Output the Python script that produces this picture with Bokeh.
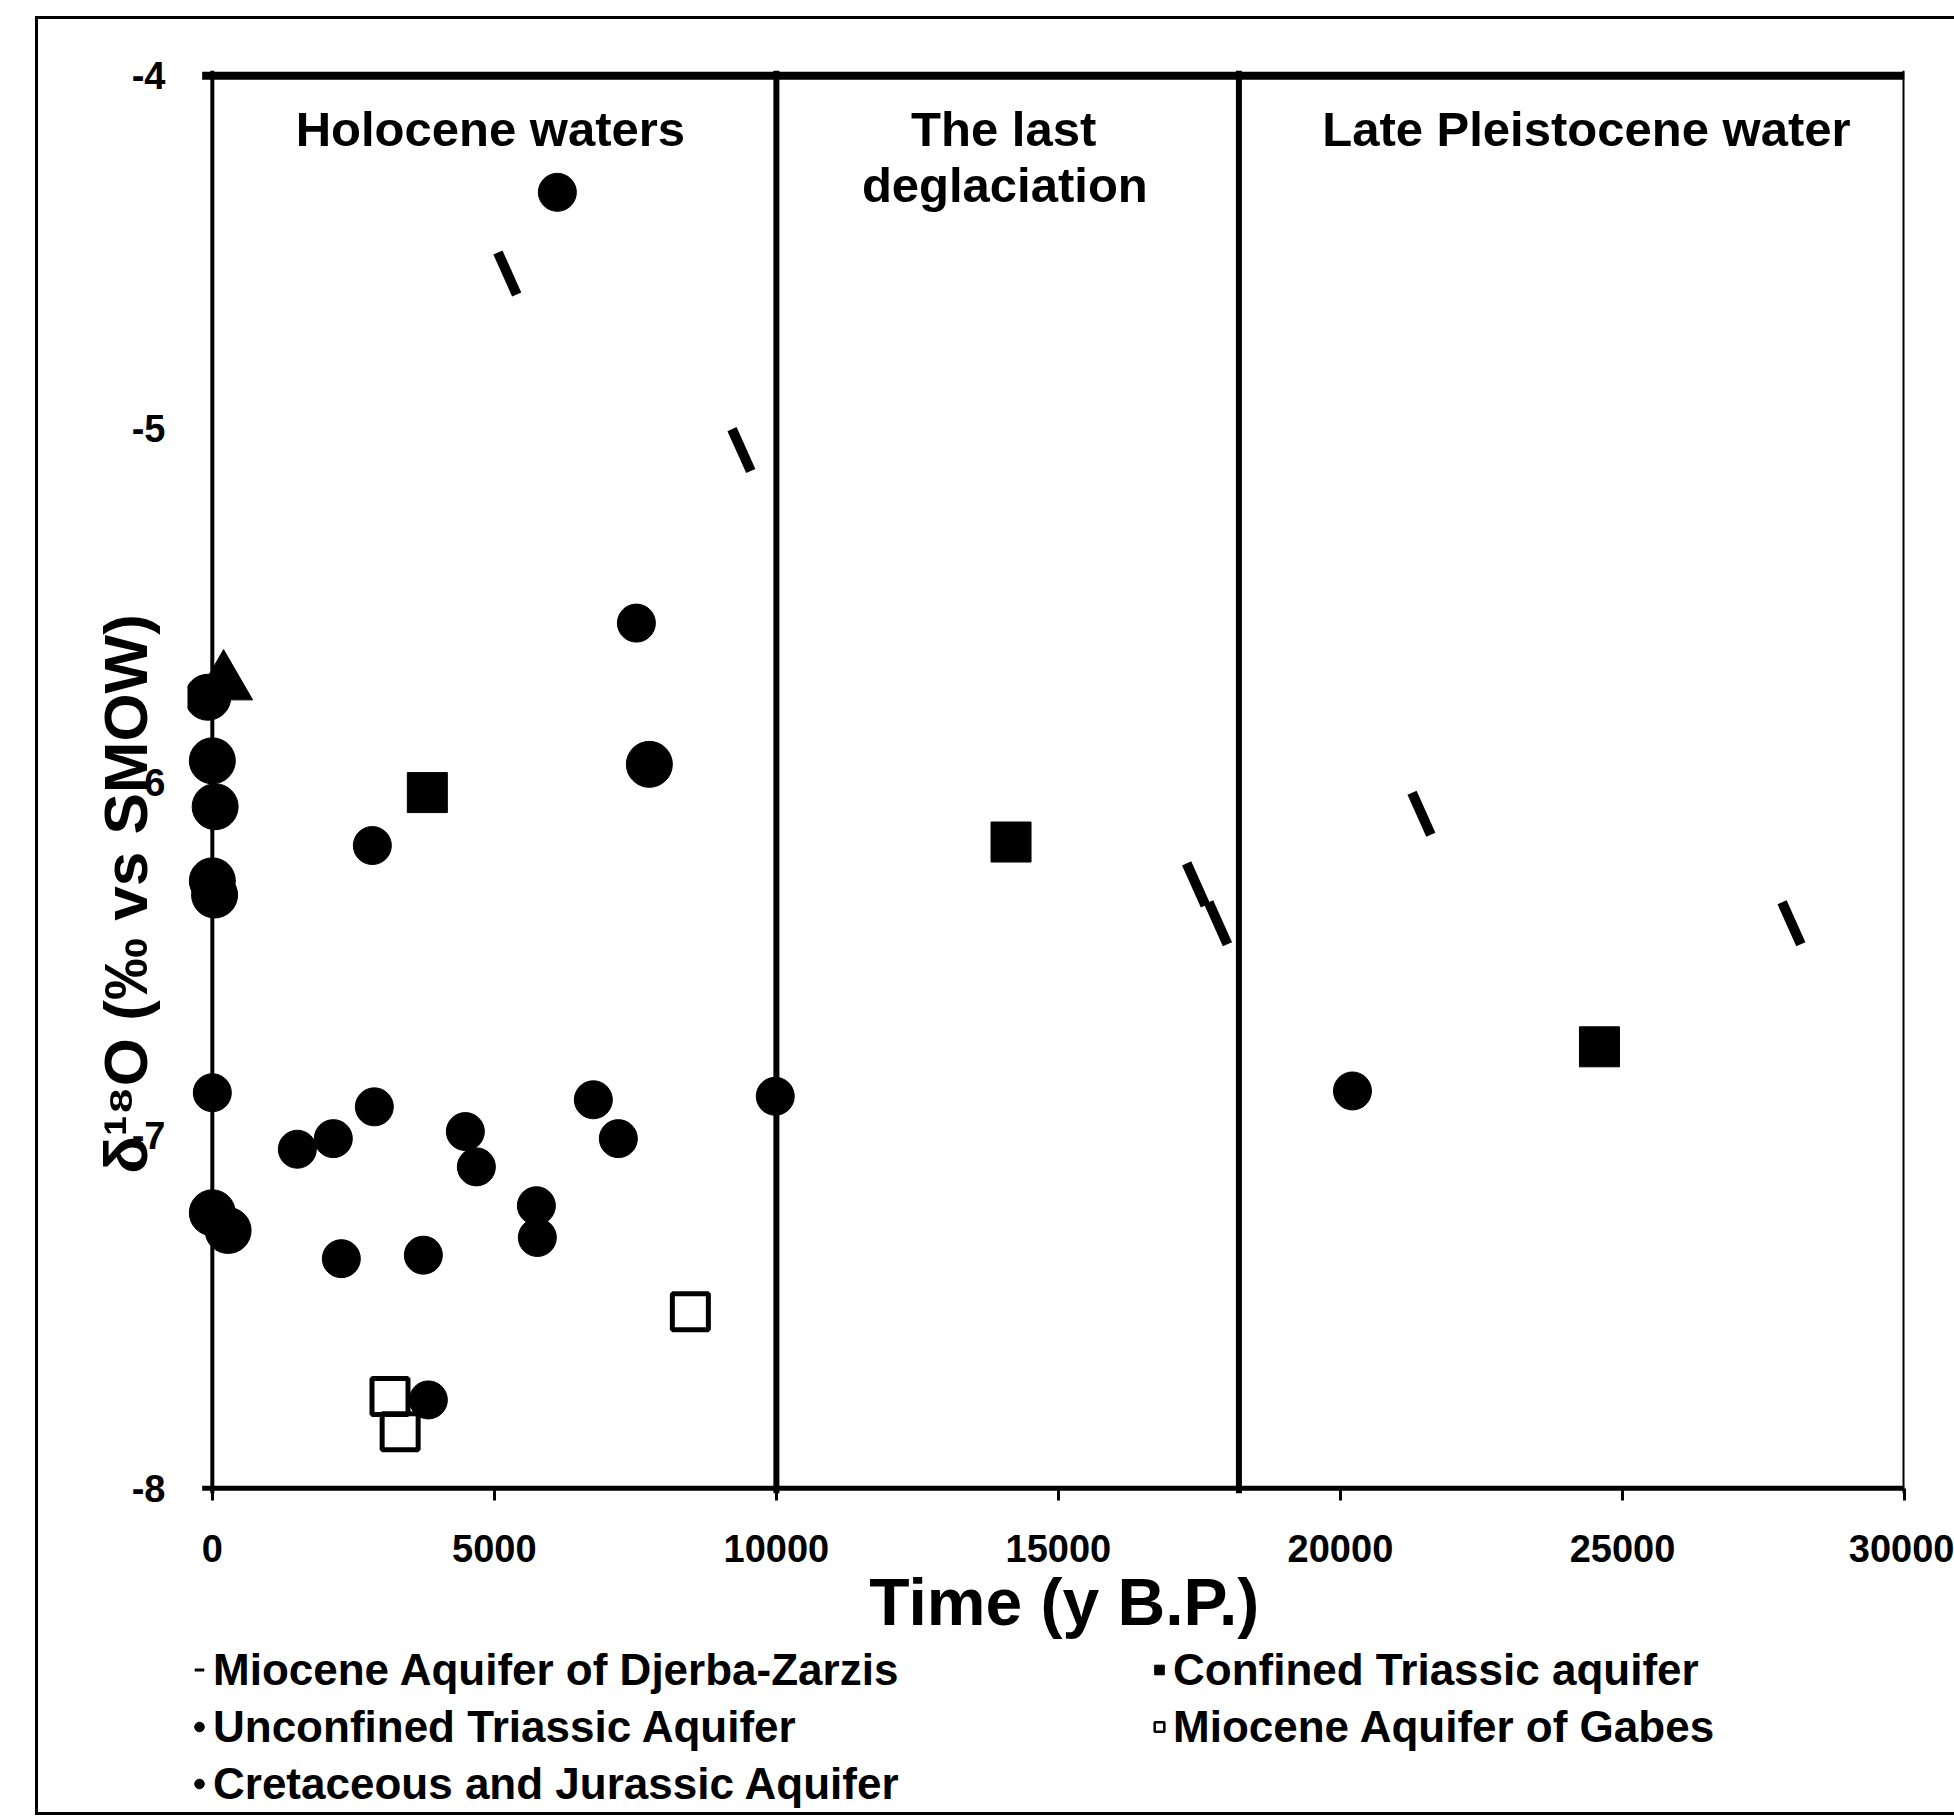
from bokeh.plotting import figure
from bokeh.layouts import column
from bokeh.models import Range1d, FixedTicker, Span, Label, Legend, LegendItem
from bokeh.embed import file_html
from bokeh.resources import INLINE

# ---------------- data ----------------
djerba_x = [5230, 9380, 17440, 17830, 21436, 27996]
djerba_y = [-4.56, -5.06, -6.29, -6.40, -6.09, -6.40]

confined_x = [3812, 14160, 24592]
confined_y = [-6.03, -6.17, -6.75]

unconfined_x = [2837, 0, 2872, 1507, 2145, 4486, 4681, 6755, 7198, 5745, 5762,
                2287, 3741, 3830, 7518, 6117, 9980, 20213]
unconfined_y = [-6.18, -6.88, -6.92, -7.04, -7.01, -6.99, -7.09, -6.90, -7.01, -7.20, -7.29,
                -7.35, -7.34, -7.75, -5.55, -4.33, -6.89, -6.875]

gabes_x = [3150, 3330, 8475]
gabes_y = [-7.74, -7.84, -7.50]

cretaceous_x = [-80, 0, 50, 0, 40, 0, 280, 7748]
cretaceous_y = [-5.76, -5.94, -6.07, -6.28, -6.32, -7.22, -7.27, -5.95]

other_x = [200]
other_y = [-5.72]

series_labels = ["Miocene Aquifer of Djerba-Zarzis", "Unconfined Triassic Aquifer",
                 "Cretaceous and Jurassic Aquifer", "Confined Triassic aquifer",
                 "Miocene Aquifer of Gabes"]

x_ticks = [0, 5000, 10000, 15000, 20000, 25000, 30000]
y_ticks = [-8, -7, -6, -5, -4]
x_limits = [0, 30000]
y_limits = [-8, -4]
period_bounds = [10000, 18200]
period_names = ["Holocene waters", "The last", "deglaciation", "Late Pleistocene water"]
period_x = [4929, 14030, 14050, 24360]
period_y = [-4.15, -4.15, -4.31, -4.15]

x_title = "Time (y B.P.)"
y_title = "δ¹⁸O (‰ vs SMOW)"

FONT = "Liberation Sans"

p = figure(frame_width=1717, frame_height=1423,
           x_range=Range1d(-440, 30000), y_range=Range1d(-8.015, -3.985),
           output_backend="svg", toolbar_location=None,
           min_border_left=149, min_border_right=50, min_border_top=51, min_border_bottom=140)

p.xgrid.grid_line_color = None
p.ygrid.grid_line_color = None
p.outline_line_color = None
p.background_fill_color = "white"
p.border_fill_color = "white"

# x axis
xa = p.xaxis[0]
xa.ticker = FixedTicker(ticks=x_ticks)
xa.axis_line_color = None
xa.major_tick_in = 5
xa.major_tick_out = 7
xa.major_tick_line_width = 3
xa.minor_tick_line_color = None
xa.major_label_standoff = 34
xa.major_label_text_font = FONT
xa.major_label_text_font_style = "bold"
xa.major_label_text_font_size = "38px"
xa.major_label_text_color = "black"
# two leading no-break spaces shift the title slightly right, as in the original
xa.axis_label = "\u00a0\u00a0" + x_title
xa.axis_label_text_font = FONT
xa.axis_label_text_font_style = "bold"
xa.axis_label_text_font_size = "66px"
xa.axis_label_text_color = "black"
xa.axis_label_standoff = 0

# y axis
ya = p.yaxis[0]
ya.ticker = FixedTicker(ticks=y_ticks)
ya.major_label_overrides = {t: str(t) for t in y_ticks}
ya.axis_line_color = None
ya.major_tick_line_color = None
ya.minor_tick_line_color = None
ya.major_tick_out = 0
ya.major_tick_in = 0
ya.major_label_standoff = 22
ya.major_label_text_font = FONT
ya.major_label_text_font_style = "bold"
ya.major_label_text_font_size = "38px"
ya.major_label_text_color = "black"
# trailing no-break spaces push the visible title down, as in the original
ya.axis_label = y_title + "\u00a0" * 13
ya.axis_label_text_font = FONT
ya.axis_label_text_font_style = "bold"
ya.axis_label_text_font_size = "62px"
ya.axis_label_text_color = "black"
ya.axis_label_standoff = -31

# frame lines
p.segment(x0=[-180], y0=[y_limits[1]], x1=[x_limits[1]], y1=[y_limits[1]], line_width=8, line_color="black")
p.segment(x0=[-180], y0=[y_limits[0]], x1=[x_limits[1]], y1=[y_limits[0]], line_width=5, line_color="black")
p.add_layout(Span(location=x_limits[0], dimension="height", line_color="black", line_width=4))
p.add_layout(Span(location=x_limits[1], dimension="height", line_color="black", line_width=4))
for b in period_bounds:
    p.add_layout(Span(location=b, dimension="height", line_color="black", line_width=6))

# period labels
for name, lx, ly in zip(period_names, period_x, period_y):
    p.add_layout(Label(x=lx, y=ly, text=name, text_align="center", text_baseline="middle",
                       text_font=FONT, text_font_style="bold", text_font_size="49px",
                       text_color="black"))

# marker styles
styles = [
    dict(marker="dash", size=46, angle=-1.15, line_width=10, line_color="black"),
    dict(marker="circle", size=38, fill_color="black", line_color="black"),
    dict(marker="circle", size=46, fill_color="black", line_color="black"),
    dict(marker="square", size=40, fill_color="black", line_color="black"),
    dict(marker="square", size=36, fill_color=None, line_color="black", line_width=5),
]
legend_styles = [
    dict(marker="dash", angle=-1.15, line_width=3, line_color="black"),
    dict(marker="circle", fill_color="black", line_color="black"),
    dict(marker="circle", fill_color="black", line_color="black"),
    dict(marker="square", fill_color="black", line_color="black"),
    dict(marker="square", fill_color=None, line_color="black", line_width=2.5),
]
series_x = [djerba_x, unconfined_x, cretaceous_x, confined_x, gabes_x]
series_y = [djerba_y, unconfined_y, cretaceous_y, confined_y, gabes_y]

for sx, sy, st in zip(series_x, series_y, styles):
    p.scatter(sx, sy, **st)
p.scatter(other_x, other_y, marker="triangle", size=58, fill_color="black", line_color="black")

# ---------------- legend panel below the chart ----------------
# the same series are drawn here, but fall outside this panel's ranges; only
# their legend glyphs show
lf = figure(width=1916, height=171, output_backend="svg", toolbar_location=None,
            x_range=Range1d(0, 1), y_range=Range1d(0, 1),
            x_axis_location=None, y_axis_location=None,
            min_border_left=149, min_border_right=50, min_border_top=0, min_border_bottom=0)
lf.xgrid.grid_line_color = None
lf.ygrid.grid_line_color = None
lf.outline_line_color = None
lf.border_fill_color = "white"

leg_renderers = [lf.scatter(sx, sy, **st) for sx, sy, st in zip(series_x, series_y, legend_styles)]

leg_common = dict(orientation="vertical", margin=0, padding=0, spacing=0,
                  glyph_width=24, glyph_height=57, label_height=57, label_standoff=2,
                  label_text_font=FONT, label_text_font_style="bold",
                  label_text_font_size="44px", label_text_color="black",
                  border_line_color=None, background_fill_alpha=0)

legend_a = Legend(items=[LegendItem(label=series_labels[i], renderers=[leg_renderers[i]]) for i in range(3)],
                  location=(0, 0), **leg_common)
legend_b = Legend(items=[LegendItem(label=series_labels[i], renderers=[leg_renderers[i]]) for i in range(3, 5)],
                  location=(960, 57), **leg_common)
lf.add_layout(legend_a)
lf.add_layout(legend_b)

layout = column(p, lf, spacing=0, margin=(19, 0, 0, 38),
                styles={"outline": "3px solid black", "outline-offset": "0px"})

open("out.html", "w").write(file_html(layout, INLINE))
